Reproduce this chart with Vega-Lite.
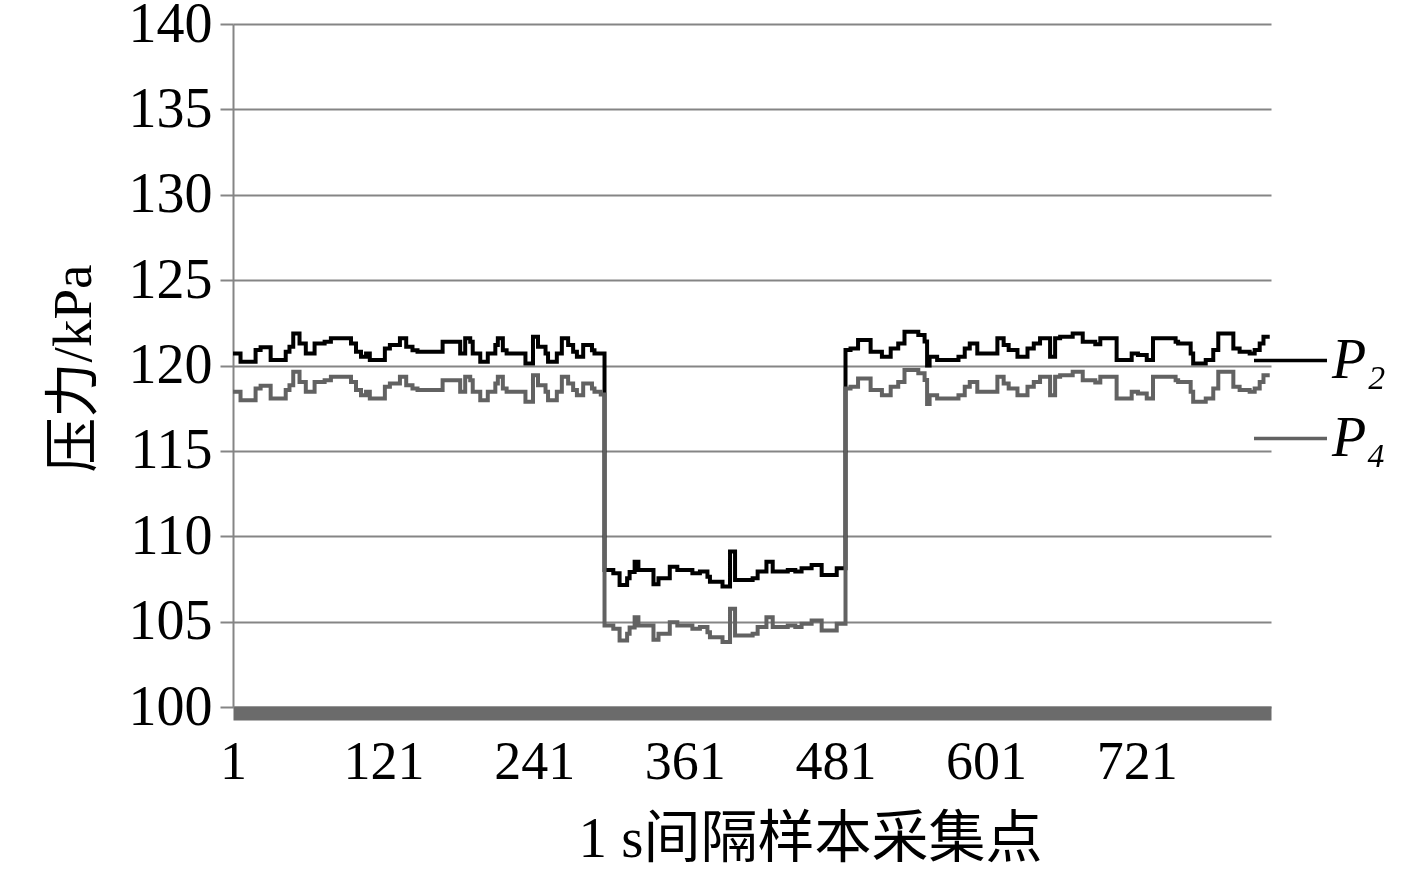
{
  "$schema": "https://vega.github.io/schema/vega-lite/v6.json",
  "width": 1038,
  "height": 683,
  "autosize": {"type": "none"},
  "padding": {"left": 233, "top": 24, "right": 146, "bottom": 162},
  "background": "white",
  "config": {"view": {"stroke": null}, "font": "Liberation Serif"},
  "data": {"values": [
    {"t": 1, "P2": 120.71, "P4": 118.46},
    {"t": 7, "P2": 120.22, "P4": 117.97},
    {"t": 19, "P2": 120.91, "P4": 118.66},
    {"t": 23, "P2": 121.07, "P4": 118.82},
    {"t": 31, "P2": 120.32, "P4": 118.07},
    {"t": 43, "P2": 120.81, "P4": 118.56},
    {"t": 46, "P2": 121.10, "P4": 118.85},
    {"t": 49, "P2": 121.88, "P4": 119.63},
    {"t": 54, "P2": 121.29, "P4": 119.04},
    {"t": 59, "P2": 120.71, "P4": 118.46},
    {"t": 66, "P2": 121.29, "P4": 119.04},
    {"t": 74, "P2": 121.39, "P4": 119.14},
    {"t": 79, "P2": 121.59, "P4": 119.34},
    {"t": 95, "P2": 121.29, "P4": 119.04},
    {"t": 99, "P2": 120.81, "P4": 118.56},
    {"t": 103, "P2": 120.51, "P4": 118.26},
    {"t": 107, "P2": 120.71, "P4": 118.46},
    {"t": 110, "P2": 120.32, "P4": 118.07},
    {"t": 122, "P2": 121.00, "P4": 118.75},
    {"t": 126, "P2": 121.20, "P4": 118.95},
    {"t": 134, "P2": 121.59, "P4": 119.34},
    {"t": 139, "P2": 121.10, "P4": 118.85},
    {"t": 144, "P2": 120.90, "P4": 118.65},
    {"t": 148, "P2": 120.81, "P4": 118.56},
    {"t": 168, "P2": 121.39, "P4": 119.14},
    {"t": 182, "P2": 120.71, "P4": 118.46},
    {"t": 186, "P2": 121.59, "P4": 119.34},
    {"t": 190, "P2": 121.39, "P4": 119.14},
    {"t": 192, "P2": 120.71, "P4": 118.46},
    {"t": 198, "P2": 120.22, "P4": 117.97},
    {"t": 204, "P2": 120.71, "P4": 118.46},
    {"t": 210, "P2": 121.20, "P4": 118.95},
    {"t": 212, "P2": 121.59, "P4": 119.34},
    {"t": 216, "P2": 120.90, "P4": 118.65},
    {"t": 219, "P2": 120.71, "P4": 118.46},
    {"t": 234, "P2": 120.12, "P4": 117.87},
    {"t": 240, "P2": 121.68, "P4": 119.43},
    {"t": 244, "P2": 121.10, "P4": 118.85},
    {"t": 250, "P2": 120.71, "P4": 118.46},
    {"t": 252, "P2": 120.22, "P4": 117.97},
    {"t": 259, "P2": 120.71, "P4": 118.46},
    {"t": 263, "P2": 121.59, "P4": 119.34},
    {"t": 268, "P2": 121.20, "P4": 118.95},
    {"t": 272, "P2": 120.81, "P4": 118.56},
    {"t": 275, "P2": 120.51, "P4": 118.26},
    {"t": 280, "P2": 121.20, "P4": 118.95},
    {"t": 287, "P2": 120.90, "P4": 118.65},
    {"t": 289, "P2": 120.71, "P4": 118.46},
    {"t": 294, "P2": 120.71, "P4": 118.30},
    {"t": 297, "P2": 108.02, "P4": 104.77},
    {"t": 304, "P2": 107.83, "P4": 104.58},
    {"t": 309, "P2": 107.14, "P4": 103.89},
    {"t": 315, "P2": 107.54, "P4": 104.29},
    {"t": 317, "P2": 107.90, "P4": 104.65},
    {"t": 321, "P2": 108.51, "P4": 105.26},
    {"t": 324, "P2": 108.02, "P4": 104.77},
    {"t": 336, "P2": 107.19, "P4": 103.94},
    {"t": 340, "P2": 107.54, "P4": 104.29},
    {"t": 349, "P2": 108.22, "P4": 104.97},
    {"t": 355, "P2": 108.02, "P4": 104.77},
    {"t": 367, "P2": 107.83, "P4": 104.58},
    {"t": 373, "P2": 107.93, "P4": 104.68},
    {"t": 379, "P2": 107.63, "P4": 104.38},
    {"t": 381, "P2": 107.34, "P4": 104.09},
    {"t": 391, "P2": 107.05, "P4": 103.80},
    {"t": 397, "P2": 109.10, "P4": 105.75},
    {"t": 401, "P2": 107.44, "P4": 104.19},
    {"t": 415, "P2": 107.54, "P4": 104.29},
    {"t": 419, "P2": 107.93, "P4": 104.68},
    {"t": 426, "P2": 108.51, "P4": 105.26},
    {"t": 431, "P2": 107.93, "P4": 104.68},
    {"t": 443, "P2": 108.02, "P4": 104.77},
    {"t": 449, "P2": 107.93, "P4": 104.68},
    {"t": 454, "P2": 108.12, "P4": 104.87},
    {"t": 462, "P2": 108.32, "P4": 105.07},
    {"t": 470, "P2": 107.73, "P4": 104.48},
    {"t": 482, "P2": 108.12, "P4": 104.87},
    {"t": 489, "P2": 120.91, "P4": 118.66},
    {"t": 493, "P2": 121.00, "P4": 118.75},
    {"t": 499, "P2": 121.49, "P4": 119.24},
    {"t": 509, "P2": 120.81, "P4": 118.56},
    {"t": 518, "P2": 120.51, "P4": 118.26},
    {"t": 525, "P2": 121.00, "P4": 118.75},
    {"t": 531, "P2": 121.29, "P4": 119.04},
    {"t": 536, "P2": 121.98, "P4": 119.73},
    {"t": 547, "P2": 121.79, "P4": 119.54},
    {"t": 552, "P2": 121.40, "P4": 119.15},
    {"t": 554, "P2": 120.00, "P4": 117.75},
    {"t": 556, "P2": 120.51, "P4": 118.26},
    {"t": 562, "P2": 120.32, "P4": 118.07},
    {"t": 579, "P2": 120.51, "P4": 118.26},
    {"t": 584, "P2": 121.00, "P4": 118.75},
    {"t": 588, "P2": 121.29, "P4": 119.04},
    {"t": 594, "P2": 120.71, "P4": 118.46},
    {"t": 610, "P2": 121.59, "P4": 119.34},
    {"t": 615, "P2": 121.20, "P4": 118.95},
    {"t": 619, "P2": 120.91, "P4": 118.66},
    {"t": 626, "P2": 120.51, "P4": 118.26},
    {"t": 634, "P2": 121.00, "P4": 118.75},
    {"t": 639, "P2": 121.29, "P4": 119.04},
    {"t": 644, "P2": 121.59, "P4": 119.34},
    {"t": 652, "P2": 120.51, "P4": 118.26},
    {"t": 656, "P2": 121.59, "P4": 119.34},
    {"t": 660, "P2": 121.68, "P4": 119.43},
    {"t": 670, "P2": 121.88, "P4": 119.63},
    {"t": 678, "P2": 121.39, "P4": 119.14},
    {"t": 688, "P2": 121.25, "P4": 119.00},
    {"t": 692, "P2": 121.59, "P4": 119.34},
    {"t": 705, "P2": 120.32, "P4": 118.07},
    {"t": 717, "P2": 120.71, "P4": 118.46},
    {"t": 722, "P2": 120.61, "P4": 118.36},
    {"t": 729, "P2": 120.32, "P4": 118.07},
    {"t": 734, "P2": 121.59, "P4": 119.34},
    {"t": 752, "P2": 121.39, "P4": 119.14},
    {"t": 754, "P2": 121.29, "P4": 119.04},
    {"t": 764, "P2": 120.71, "P4": 118.46},
    {"t": 766, "P2": 120.12, "P4": 117.87},
    {"t": 776, "P2": 120.32, "P4": 118.07},
    {"t": 782, "P2": 120.91, "P4": 118.66},
    {"t": 786, "P2": 121.88, "P4": 119.63},
    {"t": 798, "P2": 121.00, "P4": 118.75},
    {"t": 803, "P2": 120.81, "P4": 118.56},
    {"t": 811, "P2": 120.71, "P4": 118.46},
    {"t": 815, "P2": 120.91, "P4": 118.66},
    {"t": 819, "P2": 121.29, "P4": 119.04},
    {"t": 822, "P2": 121.68, "P4": 119.43},
    {"t": 827, "P2": 121.68, "P4": 119.43}
  ]},
  "transform": [{"fold": ["P2", "P4"], "as": ["series", "p"]}],
  "mark": {"type": "line", "interpolate": "step-after", "strokeWidth": 4},
  "encoding": {
    "x": {
      "field": "t", "type": "quantitative",
      "scale": {"domain": [1, 828], "nice": false, "zero": false},
      "axis": {
        "values": [1, 121, 241, 361, 481, 601, 721],
        "title": "1 s间隔样本采集点",
        "grid": false, "ticks": false,
        "domainColor": "#6b6b6b", "domainWidth": 14, "offset": 6,
        "labelFont": "Liberation Serif", "labelFontSize": 54, "labelColor": "#000000",
        "labelPadding": 22, "labelFlush": false, "labelOverlap": false,
        "titleFont": "Liberation Serif, Noto Sans CJK SC", "titleFontSize": 57, "titleFontWeight": "normal",
        "titleColor": "#000000", "titleX": 577, "titleY": 143, "titleBaseline": "alphabetic", "titleAlign": "center"
      }
    },
    "y": {
      "field": "p", "type": "quantitative",
      "scale": {"domain": [100, 140], "nice": false, "zero": false},
      "axis": {
        "values": [100, 105, 110, 115, 120, 125, 130, 135, 140],
        "title": "压力/kPa",
        "grid": true, "gridColor": "#858585", "gridWidth": 2,
        "domainColor": "#858585", "domainWidth": 2,
        "tickColor": "#858585", "tickSize": 13, "tickWidth": 2,
        "labelFont": "Liberation Serif", "labelFontSize": 56, "labelColor": "#000000", "labelPadding": 8,
        "titleFont": "Liberation Serif, Noto Sans CJK SC", "titleFontSize": 55, "titleFontWeight": "normal",
        "titleColor": "#000000", "titleX": -143, "titleY": 344, "titleAngle": -90,
        "titleBaseline": "alphabetic", "titleAlign": "center"
      }
    },
    "color": {
      "field": "series", "type": "nominal",
      "scale": {"domain": ["P2", "P4"], "range": ["#000000", "#626262"]},
      "legend": {
        "orient": "none", "legendX": 1019, "legendY": 298, "padding": 0,
        "title": null, "symbolType": "stroke", "symbolSize": 5329, "symbolStrokeWidth": 3.5,
        "labelFont": "Liberation Serif", "labelFontSize": 56, "labelFontStyle": "italic", "labelColor": "#000000",
        "labelExpr": "datum.label === 'P2' ? 'P₂' : 'P₄'",
        "rowPadding": 11, "labelOffset": 3
      }
    }
  }
}
